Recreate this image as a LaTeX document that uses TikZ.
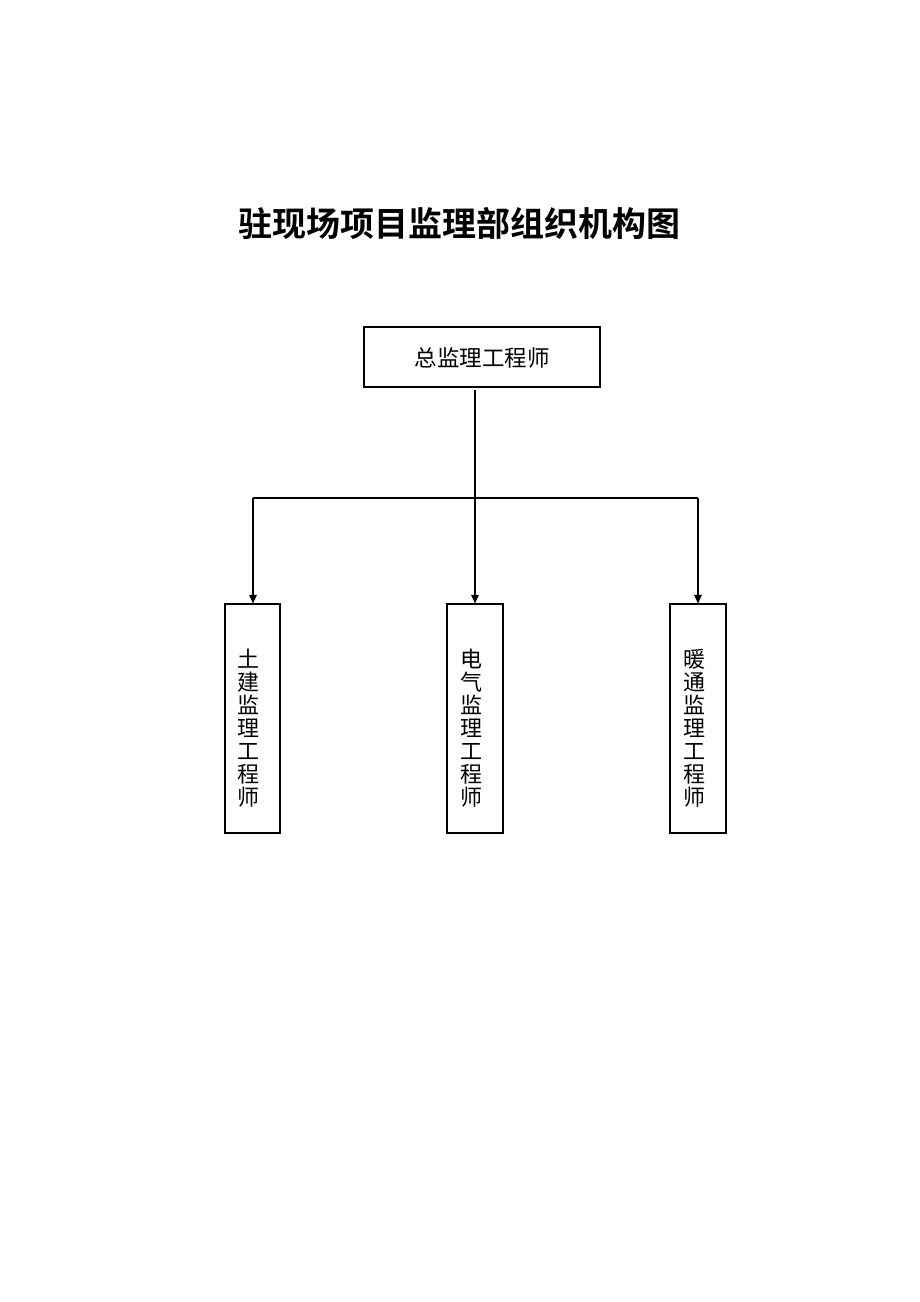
\documentclass[tikz,border=0pt]{standalone}
\usepackage{fontspec}
\newfontfamily\cjk{Noto Sans CJK SC}
\newfontfamily\cjkbold{Noto Sans CJK SC Bold}
\usetikzlibrary{arrows.meta}
\begin{document}
\begin{tikzpicture}[x=1pt,y=-1pt,
  box/.style={draw,line width=1.1pt,inner sep=0pt},
  conn/.style={line width=1.1pt},
  arr/.style={conn,-{Triangle[length=8.5pt,width=7.5pt]}},
  vlabel/.style={font=\cjk\fontsize{22}{23}\selectfont,align=center,inner sep=0pt}]
\useasboundingbox (0,0) rectangle (920,1302);
\node[font=\cjkbold\fontsize{34}{36}\selectfont,inner sep=0pt] (title) at (459,223) {驻现场项目监理部组织机构图};
\node[box,minimum width=236pt,minimum height=60pt] (chief) at (482,357) {};
\node[font=\cjk\fontsize{22.5}{24}\selectfont,inner sep=0pt] (chieft) at (482,358) {总监理工程师};
\node[box,minimum width=55pt,minimum height=229pt] (civil) at (252.5,718.5) {};
\node[box,minimum width=56pt,minimum height=229pt] (elec) at (475,718.5) {};
\node[box,minimum width=56pt,minimum height=229pt] (hvac) at (698,718.5) {};
\node[vlabel] (civilt) at (248,728) {土\\建\\监\\理\\工\\程\\师};
\node[vlabel] (elect) at (471,728) {电\\气\\监\\理\\工\\程\\师};
\node[vlabel] (hvact) at (694,728) {暖\\通\\监\\理\\工\\程\\师};
\coordinate (split) at (475,498);
\coordinate (lc) at (253,498);
\coordinate (rc) at (698,498);
\draw[arr] (475,390) -- (elec.north);
\draw[conn] (lc) -- (rc);
\draw[arr] (lc) -- (lc |- civil.north);
\draw[arr] (rc) -- (rc |- hvac.north);
\end{tikzpicture}
\end{document}
